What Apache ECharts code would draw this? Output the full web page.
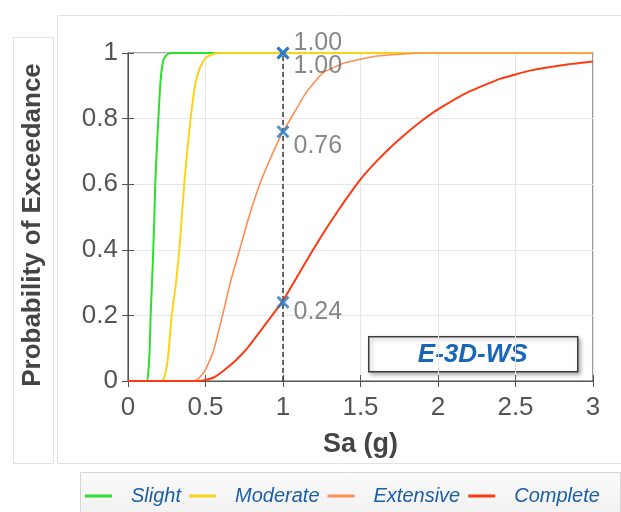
<!DOCTYPE html>
<html>
<head>
<meta charset="utf-8">
<script src="https://cdn.jsdelivr.net/npm/echarts@6/dist/echarts.min.js"></script>
<style>
  html, body { margin: 0; padding: 0; background: #fff; }
  #chart { width: 621px; height: 512px; }
</style>
</head>
<body>
<div id="chart"></div>
<script>
// fragility curves
var slightX   = [0, 0.12, 0.13, 0.14, 0.146, 0.155, 0.163, 0.17, 0.176, 0.185, 0.196, 0.205, 0.215, 0.23, 0.25, 0.28, 3.0];
var slightY   = [0, 0.00, 0.02, 0.10, 0.20, 0.30, 0.40, 0.50, 0.60, 0.70, 0.80, 0.88, 0.94, 0.98, 0.995, 1.00, 1.00];

var moderateX = [0, 0.22, 0.24, 0.26, 0.282, 0.31, 0.331, 0.347, 0.363, 0.382, 0.404, 0.432, 0.46, 0.50, 0.55, 0.60, 3.0];
var moderateY = [0, 0.00, 0.02, 0.08, 0.20, 0.30, 0.40, 0.50, 0.60, 0.70, 0.80, 0.90, 0.95, 0.985, 0.997, 1.00, 1.00];

var extensiveX = [0, 0.40, 0.45, 0.50, 0.55, 0.61, 0.66, 0.72, 0.78, 0.85, 0.92, 1.00, 1.05, 1.15, 1.26, 1.40, 1.60, 1.90, 3.0];
var extensiveY = [0, 0.00, 0.005, 0.035, 0.09, 0.20, 0.30, 0.40, 0.50, 0.60, 0.68, 0.76, 0.80, 0.88, 0.94, 0.97, 0.99, 1.00, 1.00];

var completeX = [0, 0.46, 0.55, 0.62, 0.70, 0.77, 0.85, 0.93, 1.00, 1.10, 1.20, 1.30, 1.40, 1.50, 1.60, 1.70, 1.80, 1.90, 2.00, 2.20, 2.40, 2.60, 2.80, 3.00];
var completeY = [0, 0.00, 0.01, 0.033, 0.065, 0.10, 0.15, 0.20, 0.245, 0.325, 0.405, 0.48, 0.55, 0.615, 0.668, 0.715, 0.757, 0.795, 0.828, 0.882, 0.921, 0.947, 0.963, 0.974];

var stateNames = ['Slight', 'Moderate', 'Extensive', 'Complete'];

// values picked at Sa = 1 g
var markX    = [1, 1, 1, 1];
var markY    = [1.00, 1.00, 0.76, 0.24];
var markText = ['1.00', '1.00', '0.76', '0.24'];

var xTicks = [0, 0.5, 1, 1.5, 2, 2.5, 3];
var yTicks = [0, 0.2, 0.4, 0.6, 0.8, 1];
var boxText = 'E-3D-WS';

function zip(xs, ys) {
    return xs.map(function (x, i) { return [x, ys[i]]; });
}

var colors = ['#2be02b', '#ffd21a', '#ff8c55', '#ff3a12'];
var widths = [2, 2, 1.6, 2];

var myChart = echarts.init(document.getElementById('chart'));

var curveData = [zip(slightX, slightY), zip(moderateX, moderateY), zip(extensiveX, extensiveY), zip(completeX, completeY)];

var series = stateNames.map(function (name, i) {
    return {
        name: name,
        type: 'line',
        xAxisIndex: 0,
        yAxisIndex: 0,
        data: curveData[i],
        showSymbol: false,
        smooth: 0.15,
        lineStyle: { color: colors[i], width: widths[i] },
        itemStyle: { color: colors[i] },
        z: 3 + i
    };
});

var labelOffsets = [[4, -10], [4, 13], [4, 14], [4, 10]];

series.push({
    name: 'marks',
    type: 'scatter',
    data: markX.map(function (x, i) {
        return {
            value: [x, markY[i]],
            label: { offset: labelOffsets[i] }
        };
    }),
    // thick "x" cross
    symbol: 'path://M0,1.6 L1.6,0 L5,3.4 L8.4,0 L10,1.6 L6.6,5 L10,8.4 L8.4,10 L5,6.6 L1.6,10 L0,8.4 L3.4,5 Z',
    symbolSize: 13,
    itemStyle: { color: '#1f78c8' },
    label: {
        show: true,
        position: 'right',
        distance: 0,
        color: '#6a6a6a',
        fontFamily: 'Liberation Sans',
        fontSize: 25,
        formatter: function (p) { return markText[p.dataIndex]; }
    },
    markLine: {
        silent: true,
        symbol: 'none',
        label: { show: false },
        lineStyle: { color: '#3a3a3a', type: [5, 3], width: 1.5 },
        data: [{ xAxis: 1 }]
    },
    z: 10
});

var axisGray = '#555';

var option = {
    backgroundColor: '#fff',
    animation: false,
    grid: {
        left: 128, right: 28, top: 53, bottom: 131,
        show: true, borderColor: axisGray, borderWidth: 1.2
    },
    legend: {
        data: stateNames,
        left: 85,
        top: 486,
        width: 540,
        icon: 'rect',
        itemWidth: 27,
        itemHeight: 3,
        itemGap: 8,
        padding: 0,
        textStyle: {
            color: '#1b5ea6',
            fontStyle: 'italic',
            fontFamily: 'Liberation Sans',
            fontSize: 20,
            padding: [0, 0, 0, 14]
        }
    },
    xAxis: [{
        type: 'value',
        min: 0, max: 3, interval: 0.5,
        name: 'Sa (g)',
        nameLocation: 'middle',
        nameGap: 50,
        nameTextStyle: { color: '#444', fontWeight: 'bold', fontSize: 27, fontFamily: 'Liberation Sans' },
        axisLine: { show: true, lineStyle: { color: axisGray } },
        axisTick: { show: true, inside: true, length: 6, lineStyle: { color: axisGray } },
        axisLabel: {
            margin: 14, color: '#555', fontSize: 26, fontFamily: 'Liberation Sans',
            formatter: function (v) { return xTicks.indexOf(v) >= 0 ? String(v) : ''; }
        },
        splitLine: { show: true, lineStyle: { color: '#e6e6e6' } }
    }, {
        type: 'value', position: 'top',
        min: 0, max: 3, interval: 0.5,
        axisLine: { show: false },
        axisTick: { show: true, inside: true, length: 6, lineStyle: { color: axisGray } },
        axisLabel: { show: false },
        splitLine: { show: false }
    }],
    yAxis: [{
        type: 'value',
        min: 0, max: 1, interval: 0.2,
        axisLine: { show: true, lineStyle: { color: axisGray } },
        axisTick: { show: true, inside: true, length: 6, lineStyle: { color: axisGray } },
        axisLabel: {
            margin: 10, color: '#555', fontSize: 26, fontFamily: 'Liberation Sans',
            formatter: function (v) { return yTicks.indexOf(v) >= 0 ? String(v) : ''; }
        },
        splitLine: { show: true, lineStyle: { color: '#e6e6e6' } }
    }, {
        type: 'value', position: 'right',
        min: 0, max: 1, interval: 0.2,
        axisLine: { show: false },
        axisTick: { show: true, inside: true, length: 6, lineStyle: { color: axisGray } },
        axisLabel: { show: false },
        splitLine: { show: false }
    }],
    graphic: [
        { type: 'rect', left: 57, top: 15, z: -10, silent: true,
          shape: { width: 570, height: 448 },
          style: { fill: '#fff', stroke: '#e2e2e2', lineWidth: 1 } },
        { type: 'rect', left: 13, top: 37, z: -10, silent: true,
          shape: { width: 40, height: 426 },
          style: { fill: '#fff', stroke: '#e2e2e2', lineWidth: 1 } },
        { type: 'rect', left: 80, top: 472, z: -10, silent: true,
          shape: { width: 540, height: 50 },
          style: {
              fill: new echarts.graphic.LinearGradient(0, 0, 0, 1, [
                  { offset: 0, color: '#fbfbfb' }, { offset: 1, color: '#efefef' }
              ]),
              stroke: '#d6d6d6', lineWidth: 1
          } },
        { type: 'text', x: 33, y: 225, rotation: Math.PI / 2, silent: true,
          style: {
              text: 'Probability of Exceedance',
              fill: '#444', fontWeight: 'bold', fontSize: 26, fontFamily: 'Liberation Sans',
              align: 'center', verticalAlign: 'middle'
          } },
        { type: 'group', left: 368, top: 336, z: 20, children: [
            { type: 'rect', shape: { x: 0, y: 0, width: 209, height: 35 },
              style: { fill: '#fff', stroke: '#3c3c3c', lineWidth: 1.5,
                       shadowBlur: 4, shadowOffsetX: 2, shadowOffsetY: 2, shadowColor: 'rgba(0,0,0,0.3)' } },
            { type: 'text', x: 104, y: 18,
              style: { text: boxText, fill: '#1766b8', fontWeight: 'bold', fontStyle: 'italic',
                       fontSize: 26, fontFamily: 'Liberation Sans', align: 'center', verticalAlign: 'middle' } }
        ] }
    ],
    series: series
};

myChart.setOption(option);
</script>
</body>
</html>
